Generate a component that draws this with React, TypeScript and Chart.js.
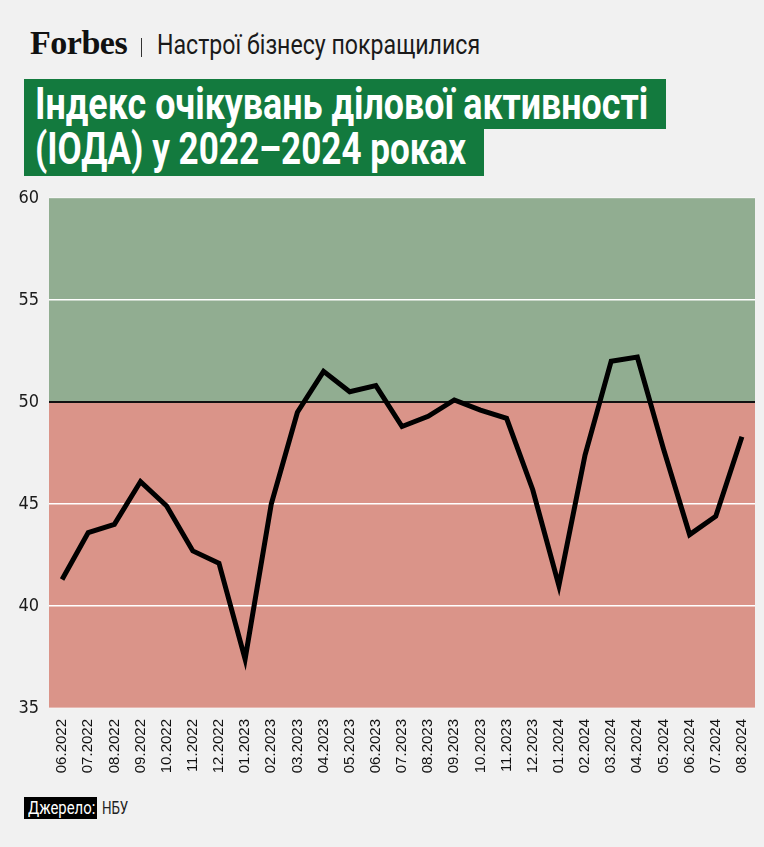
import React, { useEffect, useLayoutEffect, useRef, useState } from "react";
import { Chart, registerables } from "chart.js";

Chart.register(...registerables);

const months = [
  "06.2022", "07.2022", "08.2022", "09.2022", "10.2022", "11.2022", "12.2022",
  "01.2023", "02.2023", "03.2023", "04.2023", "05.2023", "06.2023", "07.2023",
  "08.2023", "09.2023", "10.2023", "11.2023", "12.2023", "01.2024", "02.2024",
  "03.2024", "04.2024", "05.2024", "06.2024", "07.2024", "08.2024",
];
const iodaValues = [
  41.3, 43.6, 44.0, 46.1, 44.9, 42.7, 42.1,
  37.4, 45.0, 49.5, 51.5, 50.5, 50.8, 48.8,
  49.3, 50.1, 49.6, 49.2, 45.7, 41.0, 47.4,
  52.0, 52.2, 47.7, 43.5, 44.4, 48.3,
];
const yTickValues = [35, 40, 45, 50, 55, 60];
const threshold = 50;

const PAGE_BG = "#F1F1F1";
const GREEN_BAND = "#91AD91";
const RED_BAND = "#DA9489";
const TITLE_GREEN = "#137A3E";

const bandsPlugin = {
  id: "bands",
  beforeDraw(chart: any) {
    const { ctx, chartArea: a, scales } = chart;
    const y = scales.y;
    const yT = y.getPixelForValue(threshold);
    ctx.save();
    ctx.fillStyle = GREEN_BAND;
    ctx.fillRect(a.left, a.top, a.right - a.left, yT - a.top);
    ctx.fillStyle = RED_BAND;
    ctx.fillRect(a.left, yT, a.right - a.left, a.bottom - yT);
    ctx.restore();
  },
};

function zeroPadding(scale: any) {
  scale.paddingTop = 0;
  scale.paddingBottom = 0;
  scale.paddingLeft = 0;
  scale.paddingRight = 0;
}

function Fit(props: {
  text: string;
  x: number;
  top: number;
  w: number;
  style: React.CSSProperties;
}) {
  const ref = useRef<HTMLSpanElement | null>(null);
  const [s, setS] = useState(1);
  useLayoutEffect(() => {
    const measure = () => {
      const el = ref.current;
      if (!el) return;
      const nat = el.offsetWidth;
      if (nat > 0) setS(props.w / nat);
    };
    measure();
    if ((document as any).fonts && (document as any).fonts.ready) {
      (document as any).fonts.ready.then(measure);
    }
  }, [props.text, props.w]);
  return (
    <span
      ref={ref}
      style={{
        position: "absolute",
        left: props.x,
        top: props.top,
        whiteSpace: "nowrap",
        lineHeight: 1,
        transform: `scaleX(${s})`,
        transformOrigin: "left top",
        ...props.style,
      }}
    >
      {props.text}
    </span>
  );
}

function IodaChart() {
  const canvasRef = useRef<HTMLCanvasElement | null>(null);
  useEffect(() => {
    const canvas = canvasRef.current;
    if (!canvas) return;
    const chart = new Chart(canvas, {
      type: "line",
      data: {
        labels: months,
        datasets: [
          {
            data: iodaValues,
            borderColor: "#000000",
            borderWidth: 5,
            pointRadius: 0,
            pointHoverRadius: 0,
            tension: 0,
            fill: false,
            borderJoinStyle: "miter",
            borderCapStyle: "butt",
          },
        ],
      },
      options: {
        animation: false,
        responsive: false,
        maintainAspectRatio: false,
        layout: { padding: { top: 13, right: 9, left: 0, bottom: 0 } },
        plugins: { legend: { display: false }, tooltip: { enabled: false } },
        scales: {
          x: {
            offset: true,
            grid: { display: false, drawTicks: false },
            border: { display: false },
            ticks: {
              autoSkip: false,
              minRotation: 90,
              maxRotation: 90,
              padding: 11,
              color: "#111111",
              font: { family: '"Liberation Sans", Arial, sans-serif', size: 15 },
            },
            afterFit(scale: any) {
              scale.height = 77;
              zeroPadding(scale);
            },
          },
          y: {
            min: 35,
            max: 60,
            afterBuildTicks(scale: any) {
              scale.ticks = yTickValues.map((v) => ({ value: v }));
            },
            grid: {
              drawTicks: false,
              color: (c: any) => {
                const v = c.tick && c.tick.value;
                if (v === threshold) return "#111111";
                if (v === 35 || v === 60) return "rgba(255,255,255,0.35)";
                return "#FFFFFF";
              },
              lineWidth: (c: any) => (c.tick && c.tick.value === threshold ? 2 : 1.5),
            },
            border: { display: false },
            ticks: {
              padding: 10,
              color: "#1a1a1a",
              font: {
                family: '"Liberation Sans Narrow", "DejaVu Sans Condensed", Roboto, sans-serif',
                size: 18,
              },
            },
            afterFit(scale: any) {
              scale.width = 49;
              zeroPadding(scale);
            },
          },
        },
      } as any,
      plugins: [bandsPlugin],
    });
    return () => chart.destroy();
  }, []);
  return (
    <canvas
      ref={canvasRef}
      width={764}
      height={600}
      style={{ position: "absolute", left: 0, top: 185, width: 764, height: 600 }}
    />
  );
}

export default function App() {
  useEffect(() => {
    document.body.style.margin = "0";
    document.body.style.background = PAGE_BG;
  }, []);
  return (
    <div
      style={{
        position: "relative",
        width: 764,
        height: 847,
        background: PAGE_BG,
        overflow: "hidden",
        fontFamily: "Roboto, sans-serif",
      }}
    >
      <Fit
        text="Forbes"
        x={30}
        top={27}
        w={97}
        style={{
          fontFamily: '"Liberation Serif", "Times New Roman", serif',
          fontWeight: 700,
          fontSize: 33,
          color: "#111",
          letterSpacing: -0.5,
        }}
      />
      <div
        style={{
          position: "absolute",
          left: 141,
          top: 38,
          width: 1,
          height: 19,
          background: "#333",
        }}
      />
      <Fit
        text="Настрої бізнесу покращилися"
        x={157}
        top={31}
        w={323}
        style={{ fontSize: 28, color: "#1a1a1a", fontWeight: 400 }}
      />
      <div
        style={{
          position: "absolute",
          left: 24,
          top: 79,
          width: 642,
          height: 50,
          background: TITLE_GREEN,
        }}
      />
      <div
        style={{
          position: "absolute",
          left: 24,
          top: 129,
          width: 460,
          height: 47,
          background: TITLE_GREEN,
        }}
      />
      <Fit
        text="Індекс очікувань ділової активності"
        x={35}
        top={81}
        w={613}
        style={{ fontSize: 45, color: "#fff", fontWeight: 700 }}
      />
      <Fit
        text="(ІОДА) у 2022–2024 роках"
        x={35}
        top={126}
        w={431}
        style={{ fontSize: 45, color: "#fff", fontWeight: 700 }}
      />
      <IodaChart />
      <div
        style={{
          position: "absolute",
          left: 24,
          top: 797,
          width: 73,
          height: 22,
          background: "#000",
        }}
      />
      <Fit
        text="Джерело:"
        x={28}
        top={799}
        w={67}
        style={{ fontSize: 18, color: "#fff" }}
      />
      <Fit
        text="НБУ"
        x={102}
        top={799}
        w={26}
        style={{ fontSize: 18, color: "#222" }}
      />
    </div>
  );
}
